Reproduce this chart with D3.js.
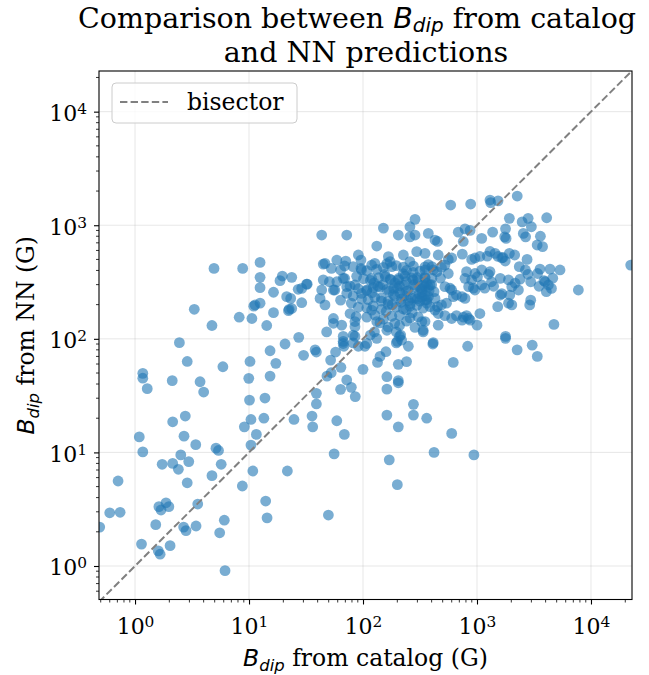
<!DOCTYPE html>
<html>
<head>
<meta charset="utf-8">
<script src="https://cdn.jsdelivr.net/npm/d3@7"></script>
<style>
  body { margin: 0; background: #fff; }
  text { font-family: "DejaVu Serif", serif; fill: #000; }
  .math { font-family: "DejaVu Sans", sans-serif; font-style: italic; }
</style>
</head>
<body>
<script>
// B_dip from catalog (x) and from the NN (y), in gauss
// low / sparse part
let lowCatalog = [0.49,0.6,0.74,0.71,1.09,1.17,1.17,1.17,1.28,1.14, 1.6,1.66,1.52,1.62,1.69,1.87,1.98,2.03,1.73,2.14,
  2.4,2.52,2.96,2.87,2.12,2.14,2.76,2.69,2.45,2.87, 3.41,2.67,2.8,3.43,3.55,3.72,4.0,4.73,5.13,5.4,
  5.7,5.9,5.53,6.07,6.16,8.74,9.1,10.4,10.4,10.8, 10.1,9.95,10.2,11.6,13.8,13.5,14.0,14.4,15.3,15.3,
  17.2,20.7,21.7,24.8,27.3,30.1,35.7,36.2,39.0,39, 39,48.3,49.7,52,52.6,55.8,57.5,58.9,63.6,64,
  68.6,72,79,85.5,100];
let lowNN = [2.2,2.94,2.97,5.6,13.7,10.1,49.7,45,36.4,1.56, 1.36,1.27,2.31,3.33,3.11,3.6,3.33,1.51,7.86,8.0,
  7.1,9.5,8.3,5.4,42.8,18.6,20.9,13.9,92.5,63.2, 11.7,2.2,2.05,2.25,3.51,41.9,34.0,6.24,10.9,10.4,
  7.86,56.8,1.96,2.53,0.91,5.06,16.8,19.5,11.6,6.86, 28.9,44.9,63.2,14.4,30.1,20.0,3.73,2.65,78.5,47,
  60.8,90,6.86,19.5,103,71.6,20.9,16.8,33.1,26.7, 76.5,47,2.81,65,50.3,9.7,76.5,19,35.9,56.1,
  14.4,43.4,37.4,31,53.9];

// upper-left group
let upLeftCatalog = [4.93,8.8,12.5,12.5,12.5,19.6,18.7,23.7,16.4,27, 21.4,23.2,11.3,12.5,11,3.31,8.2,10.6,16.4,22.2,
  23.7,4.73,14.3,32,22.5];
let upLeftNN = [417,417,471,348,282,357,325,348,257,273, 235,227,199,206,194,182,155,151,170,177,
  185,131,131,303,182];

// lower edge of the cloud and points below it
let edgeCatalog = [67,68,85,91,108,116,132,126,200,218, 214,196,1780,2250,3050,3380,828,619,413,410,
  337,250,241,204,159,141,134,162,162,204, 204,277,277,162,362,204,600,420,940,170,
  200,38,67,82,104,190,209,196,328,337, 55,55,65,48,87,85,82,119,132,162];
let edgeNN = [91,86,105,86,91,108,101,115,95,97.5, 108,115,101,80,88,70,86,62,92.5,90,
  115,86,63,59.6,77,70,62,46.4,36.1,42.8, 41,26.5,21.3,21.3,20,16.8,14.7,10,9.5,8.6,
  5.2,80,95,92,86,137,105,92,142,119, 151,137,132,115,157,128,108,179,142,119];

// upper part of the cloud, below 10^2 G on x
let topCatalog = [43.4,72,151,204,258,286,286,258,132,296, 350,226,167,91,96,58.9,70.6,46.4,52.8,69,
  82,97,127,173,258,32.4,29,44.8,50.7,43.4, 55,69,72,42,46.4,29,85,79,97,119,
  108,44.8];
let topNN = [820,820,944,820,970,1127,820,790,656,585, 566,547,529,547,494,494,484,462,417,438,
  432,404,462,478,478,303,278,330,318,269, 269,341,288,227,199,208,298,206,251,341,
  269,455];

// strong-field side (catalog > ~400 G)
let rightCatalog = [588,880,1300,1320,1530,2254,374,428,450,685, 785,870,758,1100,1372,1780,1750,1800,1923,2490,
  2810,3000,2550,2670,4087,3600,3760,3370,4370,5350, 3570,3870,4060,4500,3500,7750,4730,22300,1923,1690,
  1230,1530];
let rightNN = [1506,1537,1667,1580,1640,1807,847,741,720,869, 930,900,720,766,869,930,790,766,1150,1070,
  1150,970,847,790,1164,800,648,670,411,404, 411,325,260,278,290,269,134,446,566,520,
  535,531];

let coreRightCatalog = [457,560,600,523,488,743, 898,960,1060,1300,1440,1650,1770,2140,2750,2350,2660,
  402,445,350,402,478,560, 810,785,898,960,1010,1100,1260,1300,1340,1400,1100,960,1170,
  1600,1890,2160,2390,2800,2960, 3400,3960,4230,4620,
  2310,2020,1940,1650,1600,2020,1890,2960,2900,1520,
  1060,810,760,660,740,870,845,1000,600,523,457,428,
  540,488,450,350,362,387,428,375,
  660,740,785,457,350,845,930,1780,350,387,350,413,523,580,600,620];
let coreRightNN = [547,500,515,446,425,557, 500,515,531,587,566,515,484,547,500,432,404,
  432,390,342,342,342,376, 390,341,330,376,352,404,370,390,318,290,298,269,279,
  341,330,309,335,370,318, 376,318,298,342,
  269,288,243,250,243,199,206,219,199,192,
  167,160,155,160,146,146,151,132,151,160,167,179,
  206,199,192,219,206,192,227,235,
  243,235,227,132,142,288,279,105,288,298,404,404,288,279,269,235];

// dense core around 100-400 G
let coreCatalog = [96,108,119,132,151,162,179,196,226,241,277,316,350,374,
  88,101,116,137,157,173,204,234,268,305,350,
  77,91,108,123,141,162,186,209,241,286,328,374,
  82,97,111,127,145,166,190,218,250,286,328,362,
  91,108,123,145,166,196,226,258,296,337,
  108,127,151,179,209,258,305,
  141,166,209,241,286,
  63.6,67,59,72,63.6,56.6,77,85,67,
  150,170,190,210,230,250,280,310,340,185, 205,240,265,300,135,155,225,275,320,360,
  120,145,180,215,260,300,330,380,400,420, 200,230,175,125,275,315,160,240,270,350];
let coreNN = [417,398,446,409,425,459,432,441,428,401,437,395,430,450,
  355,338,327,345,352,336,331,357,343,325,349,
  291,276,266,282,285,272,278,292,263,283,271,286,
  238,224,221,232,229,215,237,225,217,230,233,221,
  190,187,195,182,201,190,183,194,197,186,
  155,162,149,158,161,153,156,
  138,127,131,143,126,
  404,341,318,251,219,269,167,142,105,
  300,262,310,255,295,265,300,250,300,245, 340,320,230,345,290,370,375,385,280,310,
  255,215,200,210,205,225,260,265,300,260, 280,240,330,310,330,215,175,180,170,240];

let majorTicks = [1, 10, 100, 1000, 10000];
let tickExp = ['0', '1', '2', '3', '4'];

let bCatalog = [].concat(lowCatalog, upLeftCatalog, edgeCatalog, topCatalog, rightCatalog, coreRightCatalog, coreCatalog);
let bNN = [].concat(lowNN, upLeftNN, edgeNN, topNN, rightNN, coreRightNN, coreNN);
let points = bCatalog.map(function (d, i) { return [d, bNN[i]]; });

let width = 649, height = 675;
let margin = { left: 99, right: 17, top: 71, bottom: 75.5 };
let lim = [0.483, 22900];

let x = d3.scaleLog().domain(lim).range([margin.left, width - margin.right]);
let y = d3.scaleLog().domain([0.507, 22800]).range([height - margin.bottom, margin.top]);

let svg = d3.select('body').append('svg').attr('width', width).attr('height', height);

svg.append('clipPath').attr('id', 'plot')
  .append('rect')
  .attr('x', margin.left).attr('y', margin.top)
  .attr('width', width - margin.left - margin.right)
  .attr('height', height - margin.top - margin.bottom);

// minor ticks 2..9 x 10^k
let minorX = [], minorY = [];
for (let k = -1; k <= 4; k++) {
  for (let m = 2; m <= 9; m++) {
    let v = m * Math.pow(10, k);
    if (v > x.domain()[0] && v < x.domain()[1]) minorX.push(v);
    if (v > y.domain()[0] && v < y.domain()[1]) minorY.push(v);
  }
}

// grid
let grid = svg.append('g').attr('stroke', '#b0b0b0').attr('stroke-opacity', 0.3).attr('stroke-width', 1);
grid.selectAll('.gx').data(majorTicks).join('line')
  .attr('x1', d => x(d)).attr('x2', d => x(d))
  .attr('y1', margin.top).attr('y2', height - margin.bottom);
grid.selectAll('.gy').data(majorTicks).join('line')
  .attr('x1', margin.left).attr('x2', width - margin.right)
  .attr('y1', d => y(d)).attr('y2', d => y(d));

// scatter
svg.append('g').attr('clip-path', 'url(#plot)')
  .selectAll('circle').data(points).join('circle')
  .attr('cx', d => x(d[0]))
  .attr('cy', d => y(d[1]))
  .attr('r', 5.4)
  .attr('fill', '#1f77b4')
  .attr('fill-opacity', 0.6);

// bisector y = x
svg.append('line').attr('clip-path', 'url(#plot)')
  .attr('x1', x(lim[0])).attr('y1', y(lim[0]))
  .attr('x2', x(lim[1])).attr('y2', y(lim[1]))
  .attr('stroke', '#808080').attr('stroke-width', 2).attr('stroke-dasharray', '7.4,3.2');

// axes
function addSup(sel) {
  sel.selectAll('.tick text').each(function (d, i) {
    let t = d3.select(this).text('');
    t.append('tspan').text('10');
    t.append('tspan').attr('dy', '-0.45em').attr('font-size', '0.7em').text(tickExp[i]);
  });
}

let xAxis = svg.append('g')
  .attr('transform', 'translate(0,' + (height - margin.bottom) + ')')
  .call(d3.axisBottom(x).tickValues(majorTicks).tickFormat('').tickSize(5).tickPadding(7));
xAxis.append('g').selectAll('line').data(minorX).join('line')
  .attr('x1', d => x(d)).attr('x2', d => x(d)).attr('y1', 0).attr('y2', 3)
  .attr('stroke', '#000').attr('stroke-width', 0.8);
xAxis.selectAll('.tick text').attr('dy', '1em').text('x');
addSup(xAxis);

let yAxis = svg.append('g')
  .attr('transform', 'translate(' + margin.left + ',0)')
  .call(d3.axisLeft(y).tickValues(majorTicks).tickFormat('').tickSize(5).tickPadding(7));
yAxis.append('g').selectAll('line').data(minorY).join('line')
  .attr('x1', 0).attr('x2', -3).attr('y1', d => y(d)).attr('y2', d => y(d))
  .attr('stroke', '#000').attr('stroke-width', 0.8);
yAxis.selectAll('.tick text').attr('dy', '0.4em').text('x');
addSup(yAxis);

svg.selectAll('.domain').remove();
svg.selectAll('.tick line').attr('stroke-width', 1.1);
svg.selectAll('.tick text').attr('font-size', 22).attr('font-family', 'DejaVu Serif').attr('fill', '#000');

// frame
svg.append('rect')
  .attr('x', margin.left).attr('y', margin.top)
  .attr('width', width - margin.left - margin.right)
  .attr('height', height - margin.top - margin.bottom)
  .attr('fill', 'none').attr('stroke', '#000').attr('stroke-width', 1.1);

// labels
function mathLabel(t, rest) {
  t.append('tspan').attr('class', 'math').text('B');
  t.append('tspan').attr('class', 'math').attr('font-size', '0.7em').attr('dy', '0.3em').text('dip');
  t.append('tspan').attr('dy', '-0.21em').text(rest);
}

mathLabel(svg.append('text')
  .attr('x', (margin.left + width - margin.right) / 2).attr('y', 666)
  .attr('text-anchor', 'middle').attr('font-size', 23.5), ' from catalog (G)');

mathLabel(svg.append('text')
  .attr('transform', 'translate(34,' + ((margin.top + height - margin.bottom) / 2) + ') rotate(-90)')
  .attr('text-anchor', 'middle').attr('font-size', 23.5), ' from NN (G)');

let title = svg.append('text')
  .attr('x', 357).attr('y', 27.5)
  .attr('text-anchor', 'middle').attr('font-size', 28.5);
title.append('tspan').text('Comparison between ');
title.append('tspan').attr('class', 'math').text('B');
title.append('tspan').attr('class', 'math').attr('font-size', '0.7em').attr('dy', '0.22em').text('dip');
title.append('tspan').attr('dy', '-0.154em').text(' from catalog');

svg.append('text')
  .attr('x', 366).attr('y', 61.5)
  .attr('text-anchor', 'middle').attr('font-size', 28.5)
  .text('and NN predictions');

// legend
let legend = svg.append('g');
legend.append('rect')
  .attr('x', 112).attr('y', 83).attr('width', 185).attr('height', 40).attr('rx', 4)
  .attr('fill', '#fff').attr('fill-opacity', 0.8)
  .attr('stroke', '#cccccc').attr('stroke-width', 1);
legend.append('line')
  .attr('x1', 120).attr('x2', 168).attr('y1', 102).attr('y2', 102)
  .attr('stroke', '#808080').attr('stroke-width', 2).attr('stroke-dasharray', '7.4,3.2');
legend.append('text')
  .attr('x', 187).attr('y', 110).attr('font-size', 23.5)
  .text('bisector');
</script>
</body>
</html>
